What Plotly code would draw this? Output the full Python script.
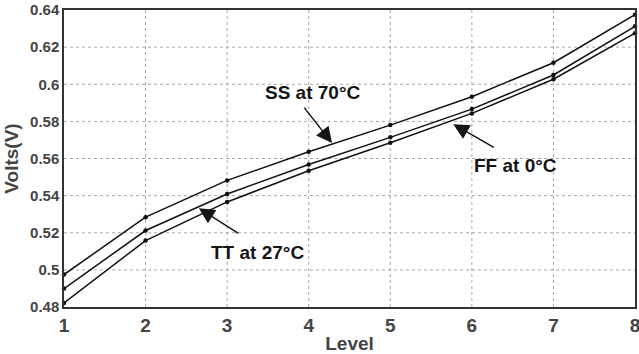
import plotly.graph_objects as go

levels = [1, 2, 3, 4, 5, 6, 7, 8]
ss_70c = [0.4975, 0.5284, 0.5482, 0.5636, 0.5780, 0.5933, 0.6116, 0.6375]
tt_27c = [0.4899, 0.5212, 0.5409, 0.5568, 0.5714, 0.5866, 0.6050, 0.6312]
ff_0c = [0.4822, 0.5158, 0.5366, 0.5534, 0.5685, 0.5843, 0.6027, 0.6275]
y_ticks = [0.48, 0.50, 0.52, 0.54, 0.56, 0.58, 0.60, 0.62, 0.64]
y_tick_labels = ["0.48", "0.5", "0.52", "0.54", "0.56", "0.58", "0.6", "0.62", "0.64"]

FAM = "Liberation Sans, Arial, Helvetica, sans-serif"
GRID = dict(color="#a8a8a8", width=1, dash="dot")

fig = go.Figure()

# dotted grid as a trace built from the tick lists (drawn first, under the data lines)
gx, gy = [], []
for lv in levels[1:-1]:
    gx += [lv, lv, None]
    gy += [y_ticks[0], y_ticks[-1], None]
for yt in y_ticks[1:-1]:
    gx += [levels[0], levels[-1], None]
    gy += [yt, yt, None]
fig.add_trace(go.Scatter(x=gx, y=gy, mode="lines", line=GRID, hoverinfo="skip",
                         showlegend=False, name="grid"))

for name, vals in [("SS at 70°C", ss_70c), ("TT at 27°C", tt_27c), ("FF at 0°C", ff_0c)]:
    fig.add_trace(go.Scatter(x=levels, y=vals, mode="lines+markers", name=name,
                             line=dict(color="#111111", width=1.5),
                             marker=dict(color="#111111", size=4.5),
                             cliponaxis=False))

axis_common = dict(showgrid=False,
                   showline=True, linecolor="#333333", linewidth=1.5, mirror=True,
                   zeroline=False, ticks="", automargin=False, ticklabeloverflow="allow")

fig.update_xaxes(range=[1, 8], tickvals=levels, ticktext=[f"<b>{v}</b>" for v in levels],
                 tickfont=dict(family=FAM, size=19, color="#444444"),
                 title=dict(text="<b>Level</b>", font=dict(family=FAM, size=19, color="#444444"), standoff=4),
                 **axis_common)
fig.update_yaxes(range=[0.48, 0.64], tickvals=y_ticks, ticktext=[f"<b>{t}</b>" for t in y_tick_labels],
                 tickfont=dict(family=FAM, size=15, color="#444444"),
                 title=dict(text="<b>Volts(V)</b>", font=dict(family=FAM, size=19, color="#444444"), standoff=6),
                 **axis_common)

ann_font = dict(family=FAM, size=19, color="#151515")
# arrows (tip at x,y; tail offset ax,ay in px)
for (x, y, ax, ay) in [(4.286, 0.5683, -29, -37), (5.772, 0.5785, 42, 24), (2.653, 0.5332, 41, 26)]:
    fig.add_annotation(x=x, y=y, ax=ax, ay=ay, text="", showarrow=True,
                       arrowhead=2, arrowsize=2.1, arrowwidth=1.5, arrowcolor="#151515")
for (x, y, t) in [(4.053, 0.5958, "SS at 70°C"), (6.534, 0.5564, "FF at 0°C"), (3.378, 0.5095, "TT at 27°C")]:
    fig.add_annotation(x=x, y=y, text=f"<b>{t}</b>", showarrow=False, font=ann_font)

fig.update_layout(width=639, height=354, margin=dict(l=64, r=4, t=10, b=47, autoexpand=False),
                  plot_bgcolor="white", paper_bgcolor="white", showlegend=False)
fig.write_html("out.html", config={"displayModeBar": False},
               post_script="document.body.style.margin='0';document.body.style.overflow='hidden';")
